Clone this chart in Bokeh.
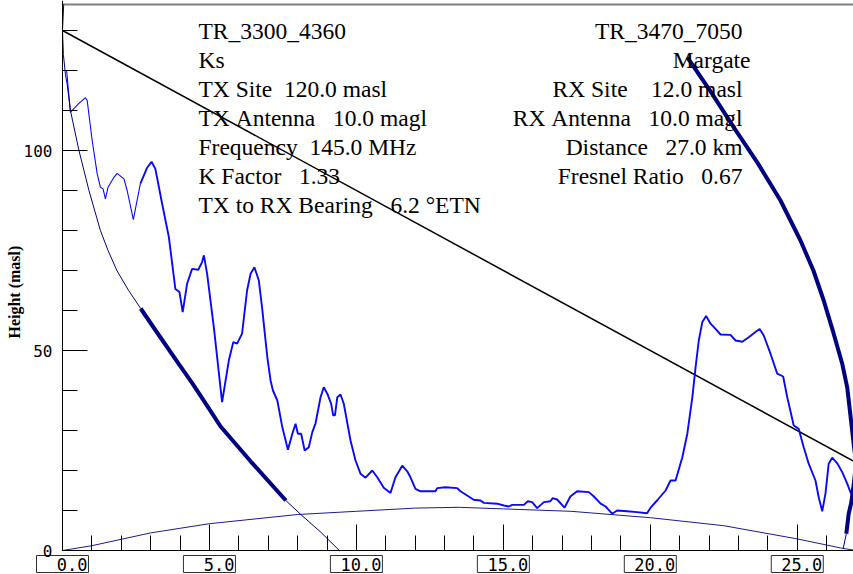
import math
from bokeh.plotting import figure
from bokeh.models import Range1d, FixedTicker, Label, LinearAxis
from bokeh.embed import file_html
from bokeh.resources import INLINE

# ---------------- data ----------------
terrain_km = [0.0, 0.14, 0.27, 0.55, 0.78, 0.84, 1.01, 1.18, 1.29, 1.38, 1.46, 1.55, 1.75, 1.86,
              2.09, 2.20, 2.41, 2.65, 2.88, 3.03, 3.16, 3.39, 3.62, 3.84, 3.98, 4.09, 4.24,
              4.41, 4.62, 4.75, 4.81, 4.92, 5.15, 5.43, 5.66, 5.81, 5.94, 6.11, 6.28, 6.40,
              6.53, 6.68, 6.79, 6.97, 7.08, 7.16, 7.31, 7.48, 7.67, 7.82, 7.93, 8.01, 8.12,
              8.24, 8.38, 8.50, 8.61, 8.78, 8.89, 9.01, 9.14, 9.21, 9.27, 9.35, 9.46, 9.57,
              9.80, 9.97, 10.14, 10.31, 10.54, 10.71, 10.93, 11.16, 11.33, 11.56, 11.73,
              11.84, 12.01, 12.18, 12.69, 12.75, 13.03, 13.43, 13.54, 13.82, 13.99, 14.22,
              14.34, 14.79, 15.02, 15.19, 15.30, 15.70, 15.83, 15.98, 16.15, 16.38, 16.60,
              16.68, 16.83, 17.08, 17.28, 17.51, 17.91, 18.08, 18.31, 18.48, 18.70, 18.87,
              19.21, 19.55, 19.89, 20.01, 20.23, 20.52, 20.69, 20.86, 21.09, 21.26, 21.43,
              21.54, 21.65, 21.77, 21.90, 22.05, 22.22, 22.39, 22.73, 22.90, 23.13, 23.35,
              23.58, 23.72, 23.86, 24.09, 24.32, 24.52, 24.66, 24.88, 25.05, 25.22, 25.39,
              25.62, 25.73, 25.85, 25.96, 26.07, 26.19, 26.36, 26.53, 26.70, 26.81, 27.0]
terrain_m = [120.0, 120.0, 109.6, 111.7, 113.2, 112.5, 102.5, 94.2, 90.8, 90.4, 87.9, 90.8, 93.3, 94.3,
             92.9, 90.0, 82.7, 91.7, 95.7, 97.2, 95.4, 86.7, 78.3, 65.4, 64.6, 59.6, 66.7,
             70.4, 70.2, 72.1, 73.8, 69.2, 55.8, 37.1, 47.5, 52.1, 51.7, 54.2, 65.0, 69.2,
             70.8, 67.5, 60.8, 48.3, 42.5, 40.0, 37.5, 30.8, 25.2, 29.2, 31.7, 29.2, 29.2,
             25.0, 25.8, 29.6, 31.8, 38.3, 40.8, 39.2, 36.7, 33.8, 33.8, 38.3, 39.0, 36.7,
             27.5, 22.5, 19.2, 18.2, 20.0, 18.3, 15.7, 14.4, 18.3, 21.2, 19.8,
             18.3, 15.4, 14.8, 14.8, 15.6, 15.8, 15.6, 14.8, 13.5, 12.7, 12.5,
             11.9, 11.7, 11.25, 11.0, 11.4, 11.4, 12.3, 12.1, 10.6, 12.1, 12.3,
             13.1, 12.75, 10.7, 13.5, 14.8, 14.6, 13.5, 11.7, 11.0, 9.2, 10.0,
             9.8, 9.6, 9.3, 10.7, 12.5, 15.0, 17.5, 17.5, 23.3, 29.2, 38.3,
             45.8, 52.5, 57.1, 58.6, 56.7, 55.4, 54.0, 53.9, 52.5, 52.2, 53.3,
             54.6, 55.4, 53.75, 49.2, 44.2, 43.5, 38.3, 31.25, 30.4, 25.8, 21.7,
             17.5, 13.3, 9.8, 14.2, 21.7, 23.2, 21.8, 19.6, 16.7, 14.6, 12.5]

bulge_km = [0.0, 1.0, 3.0, 5.0, 8.0, 10.0, 12.0, 13.5, 15.0, 17.3, 20.0, 22.5, 25.0, 26.5, 27.0]
bulge_m = [0.0, 1.2, 4.4, 6.7, 9.0, 9.8, 10.6, 10.8, 10.4, 9.8, 8.2, 6.2, 2.9, 0.6, 0.0]

los_km = [0.0, 27.0]
los_m = [130.0, 22.0]

fz_tx_up_km = [0.0, 0.04]
fz_tx_up_m = [130.0, 136.5]

fz_left_km = [0.0, 0.03, 0.10, 0.16, 0.27, 0.56, 0.90, 1.29, 1.55, 1.85, 2.25, 2.66, 3.17, 3.96,
              4.42, 4.99, 5.38, 6.40, 7.60, 8.11, 8.80, 9.42]
fz_left_m = [130.0, 124.0, 119.0, 116.5, 110.0, 100.0, 90.0, 80.0, 75.0, 70.0, 65.0, 60.5, 55.0,
             46.6, 41.8, 35.4, 31.0, 22.3, 12.5, 9.0, 4.5, 0.0]
fz_left_thick = (11, 18)   # index range drawn thick

fz_right_km = [21.26, 22.05, 22.84, 23.65, 24.43, 25.11, 25.55, 25.90, 26.24, 26.53, 26.70,
               26.83, 26.93, 27.0, 26.93, 26.84, 26.75, 26.67, 26.56]
fz_right_m = [123.3, 114.8, 105.8, 96.9, 87.5, 77.5, 70.0, 62.5, 54.2, 46.7, 40.8,
              32.5, 26.0, 22.0, 17.0, 12.0, 9.2, 4.2, 0.4]
fz_right_thick = (0, 17)

x_major = [0, 5, 10, 15, 20, 25]
x_tick_labels = ["0.0", "5.0", "10.0", "15.0", "20.0", "25.0"]
x_minor = list(range(1, 27))
y_major = [0, 50, 100]
y_tick_labels = ["0", "50", "100"]
y_minor = list(range(10, 140, 10))

tx_lines = ["TR_3300_4360", "Ks", "TX Site  120.0 masl", "TX Antenna   10.0 magl",
            "Frequency  145.0 MHz", "K Factor   1.33", "TX to RX Bearing   6.2 \u00b0ETN"]
rx_lines = ["TR_3470_7050", "Margate", "RX Site    12.0 masl", "RX Antenna   10.0 magl",
            "Distance   27.0 km", "Fresnel Ratio   0.67"]

# ---------------- figure ----------------
PX_PER_KM = 29.39
PX_PER_M = 4.0
W, H = 853, 574
X_AXIS_PX, Y_AXIS_PX = 62, 550   # where the axes sit in the canvas

p = figure(width=W, height=H,
           x_range=Range1d(-X_AXIS_PX / PX_PER_KM, (W - X_AXIS_PX) / PX_PER_KM),
           y_range=Range1d(-(H - Y_AXIS_PX) / PX_PER_M, Y_AXIS_PX / PX_PER_M),
           x_axis_location=None, y_axis_location=None,
           output_backend="svg", toolbar_location=None,
           min_border=0, min_border_left=0, min_border_right=0,
           min_border_top=0, min_border_bottom=0)
p.outline_line_color = None
p.xgrid.visible = False
p.ygrid.visible = False

x_end = los_km[-1]
y_top = 136.5


def make_axis(ticks, tick_len, loc, bounds, line=True):
    ax = LinearAxis(fixed_location=loc, bounds=bounds,
                    ticker=FixedTicker(ticks=[], minor_ticks=ticks))
    ax.axis_line_color = "black" if line else None
    ax.axis_line_width = 1
    ax.minor_tick_line_color = "black"
    ax.minor_tick_in = tick_len
    ax.minor_tick_out = 0
    ax.major_tick_in = 0
    ax.major_tick_out = 0
    ax.major_label_standoff = 0
    return ax


p.add_layout(make_axis(x_minor, 15, 0, (0, x_end)), "below")
p.add_layout(make_axis(x_major, 26, 0, (0, x_end), line=False), "below")
p.add_layout(make_axis(y_minor, 15, 0, (0, y_top + 1.2)), "left")
p.add_layout(make_axis(y_major, 25, 0, (0, y_top), line=False), "left")

# gray frame border along the top of the plot area
p.line([0, x_end], [y_top, y_top], line_color="#808080", line_width=2)

NAVY = "#000080"
BLUE = "#0a0af0"

# earth bulge
p.line(bulge_km, bulge_m, line_color="#1c1c8a", line_width=1)
# line of sight
p.line(los_km, los_m, line_color="black", line_width=1.5)
# terrain
split = 17
p.line(terrain_km[:split + 1], terrain_m[:split + 1], line_color=BLUE, line_width=1.1)
p.line(terrain_km[split:], terrain_m[split:], line_color=BLUE, line_width=1.9)
# fresnel zone curves
a, b = fz_left_thick
p.line(fz_tx_up_km, fz_tx_up_m, line_color=NAVY, line_width=1)
p.line(fz_left_km[:a + 1], fz_left_m[:a + 1], line_color=NAVY, line_width=1)
p.line(fz_left_km[a:b + 1], fz_left_m[a:b + 1], line_color=NAVY, line_width=4)
p.line(fz_left_km[b:], fz_left_m[b:], line_color=NAVY, line_width=1)
a, b = fz_right_thick
p.line(fz_right_km[a:b + 1], fz_right_m[a:b + 1], line_color=NAVY, line_width=4)
p.line(fz_right_km[b:], fz_right_m[b:], line_color=NAVY, line_width=1)

# x tick labels in boxes
box_y = -3.375
p.rect(x=x_major, y=[box_y] * len(x_major), width=52, height=17,
       width_units="screen", height_units="screen",
       fill_color="white", line_color="#303030", line_width=1)
for xv, lab in zip(x_major, x_tick_labels):
    p.add_layout(Label(x=xv, y=box_y, x_offset=25, text=lab,
                       text_font="DejaVu Sans Mono", text_font_size="17px",
                       text_align="right", text_baseline="middle", text_color="black"))
# y tick labels
for yv, lab in zip(y_major, y_tick_labels):
    p.add_layout(Label(x=0, x_offset=-10, y=yv, text=lab,
                       text_font="DejaVu Sans Mono", text_font_size="16px",
                       text_align="right", text_baseline="alphabetic", text_color="black"))
# y axis title
p.add_layout(Label(x=-1.63, y=64.6, text="Height (masl)", angle=math.pi / 2,
                   text_font="Liberation Serif", text_font_size="16px", text_font_style="bold",
                   text_align="center", text_baseline="middle", text_color="black"))

# info text blocks
NB = "\u00a0"
base_y = 129.8
step = 7.225
for i, t in enumerate(tx_lines):
    p.add_layout(Label(x=4.627, y=base_y - i * step, text=t.replace(" ", NB),
                       text_font="Liberation Serif", text_font_size="23.5px",
                       text_align="left", text_baseline="alphabetic", text_color="black"))
for i, t in enumerate(rx_lines):
    xr = 23.41 if t == "Margate" else 23.137
    p.add_layout(Label(x=xr, y=base_y - i * step, text=t.replace(" ", NB),
                       text_font="Liberation Serif", text_font_size="23.5px",
                       text_align="right", text_baseline="alphabetic", text_color="black"))

open("out.html", "w").write(file_html(p, INLINE))
